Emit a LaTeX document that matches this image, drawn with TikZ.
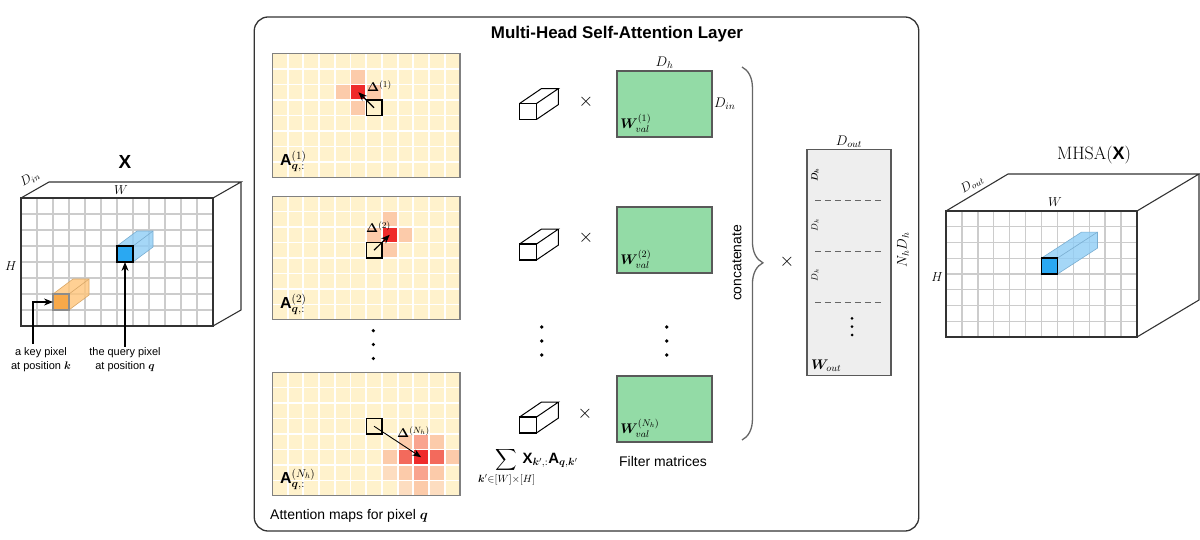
\RequirePackage{fix-cm}
\documentclass[tikz,border=0pt]{standalone}
\usepackage{amsmath}
\usepackage{mathtools}
\usepackage{amssymb}
\usepackage{bm}
\usepackage[no-math]{fontspec}
\setmainfont{Liberation Sans}
\usetikzlibrary{positioning}
\usetikzlibrary{calc}
\usetikzlibrary{arrows.meta}
\usetikzlibrary{decorations.pathreplacing}

\definecolor{cellbase}{HTML}{FFF2CC}
\definecolor{cellfaint}{HTML}{FDDDC0}
\definecolor{celllight}{HTML}{FCCBAA}
\definecolor{cellmid}{HTML}{F9A48F}
\definecolor{cellhot}{HTML}{F36A5C}
\definecolor{cellred}{HTML}{EF2B2B}
\definecolor{gridgray}{HTML}{CCCCCC}
\definecolor{edgegray}{HTML}{333333}
\definecolor{matgreen}{HTML}{93DBA6}
\definecolor{matgray}{HTML}{EEEEEE}
\definecolor{qblue}{HTML}{2AA8F2}
\definecolor{qbluelight}{HTML}{8FCDF6}
\definecolor{korange}{HTML}{F8A94A}
\definecolor{korangelight}{HTML}{FFC57A}

\begin{document}
\begin{tikzpicture}[x=1bp, y=-1bp]
\useasboundingbox (0,0) rectangle (1200,540);

% Define styles for different elements
\tikzstyle{tensoredge} = [draw=edgegray, line width=1.1]
\tikzstyle{tensorface} = [draw=edgegray, line width=2]
\tikzstyle{gridline} = [draw=gridgray, line width=1.4]
\tikzstyle{cellline} = [draw=white, line width=2]
\tikzstyle{panel} = [rectangle, rounded corners=14pt, draw=edgegray, line width=1.3, minimum width=667, minimum height=516, inner sep=0]
\tikzstyle{mapframe} = [rectangle, draw=black!50, line width=1.3, minimum width=188.4, minimum height=124, inner sep=0, outer sep=0]
\tikzstyle{querybox} = [rectangle, draw=black, line width=1.6, minimum size=15.5, inner sep=0, outer sep=0]
\tikzstyle{pixel} = [rectangle, draw=edgegray, line width=1.4, minimum size=16, inner sep=0, outer sep=0]
\tikzstyle{cube} = [rectangle, draw=black, line width=1.5, fill=white, minimum width=17, minimum height=16, inner sep=0, outer sep=0]
\tikzstyle{cubeedge} = [draw=black, line width=1]
\tikzstyle{valbox} = [rectangle, draw=black!65, line width=1.6, fill=matgreen, minimum width=95, minimum height=66, inner sep=0, outer sep=0]
\tikzstyle{outbox} = [rectangle, draw=black!65, line width=1.6, fill=matgray, minimum width=84, minimum height=227, inner sep=0, outer sep=0]
\tikzstyle{arrow} = [line width=1.2, -{Stealth[length=9pt,width=7pt]}]
\tikzstyle{dashline} = [draw=black!60, line width=0.9, dash pattern=on 6pt off 4pt]
\tikzstyle{bracestyle} = [draw=black!60, line width=1.3, decorate, decoration={brace, amplitude=21pt, aspect=0.525}]
\tikzstyle{smalltext} = [font=\fontsize{11}{14}\selectfont, align=center, inner sep=1]
\tikzstyle{bodytext} = [font=\fontsize{14}{17}\selectfont, inner sep=1]
\tikzstyle{timesign} = [font=\fontsize{19}{20}\selectfont, inner sep=1]
\tikzstyle{maplabel} = [font=\fontsize{16}{18}\selectfont, inner sep=1]
\tikzstyle{mathlabel} = [font=\fontsize{14}{16}\selectfont, inner sep=1]
\tikzstyle{tinylabel} = [font=\fontsize{13}{15}\selectfont, inner sep=1]

% Input tensor X
\draw[tensoredge] (21,198) -- (49,182) -- (241,182) -- (213,198);
\draw[tensoredge] (241,182) -- (241,310) -- (213,326);
\fill[white] (21,198) rectangle (213,326);
\foreach \i in {1,...,11} \draw[gridline] ({21+\i*16},198) -- ++(0,128);
\foreach \j in {1,...,7} \draw[gridline] (21,{198+\j*16}) -- ++(192,0);
\node[pixel, draw=none] (xq) at (125,254) {};
\node[pixel, draw=none] (xk) at (61,302) {};
\fill[qbluelight, fill opacity=0.8] (xq.north west) -- ++(20,-15) -- ++(16,0) -- ++(0,16) -- (xq.south east) -- (xq.north east) -- cycle;
\draw[qbluelight!85!black, line width=0.6] (xq.north west) -- ++(20,-15) -- ++(16,0) -- ++(0,16) -- (xq.south east);
\draw[qbluelight!85!black, line width=0.6] (xq.north east) -- ++(20,-15);
\fill[korangelight, fill opacity=0.8] (xk.north west) -- ++(20,-15) -- ++(16,0) -- ++(0,16) -- (xk.south east) -- (xk.north east) -- cycle;
\draw[korangelight!85!black, line width=0.6] (xk.north west) -- ++(20,-15) -- ++(16,0) -- ++(0,16) -- (xk.south east);
\draw[korangelight!85!black, line width=0.6] (xk.north east) -- ++(20,-15);
\node[pixel, fill=qblue, draw=black] (xqpix) at (xq) {};
\node[pixel, fill=korange, draw=black!45] (xkpix) at (xk) {};
\draw[tensorface] (21,198) rectangle (213,326);

\node[font=\fontsize{19}{21}\selectfont\bfseries] (xtitle) at (125,162) {X};
\node[tinylabel] (xw) at (121,190) {$W$};
\node[tinylabel] (xh) at (11,266) {$H$};
\node[tinylabel, rotate=30] (xdin) at (30,179) {$D_{in}$};

% Pointers to the pixels
\node[smalltext] (klabel) at (41,360) {a key pixel\\at position $\bm{k}$};
\node[smalltext] (qlabel) at (125,360) {the query pixel\\at position $\bm{q}$};
\coordinate (kstart) at (33,344);
\draw[arrow] (qlabel) -- (xqpix);
\draw[arrow] (kstart) |- (xkpix);

% Layer frame
\node[panel] (layer) at (586.5,274) {};
\node[font=\fontsize{17}{20}\selectfont\bfseries] (title) at (617,34) {Multi-Head Self-Attention Layer};

% Draw the attention maps
\foreach \mtop in {53.5,196,372} {
  \fill[cellbase] (272,\mtop) rectangle ++(188.4,124);
}
\foreach \cc/\rr/\cl in {5/1/celllight, 4/2/celllight, 6/2/celllight, 5/3/celllight, 5/2/cellred}
  \fill[\cl] ({272+\cc*15.7},{53.5+\rr*15.5}) rectangle ++(15.7,15.5);
\foreach \cc/\rr/\cl in {7/1/celllight, 6/2/celllight, 8/2/celllight, 7/3/celllight, 7/2/cellred}
  \fill[\cl] ({272+\cc*15.7},{196+\rr*15.5}) rectangle ++(15.7,15.5);
\foreach \cc/\rr/\cl in {8/4/celllight, 9/4/cellmid, 10/4/celllight, 7/5/celllight, 8/5/cellhot, 9/5/cellred, 10/5/cellhot, 11/5/celllight, 7/6/cellfaint, 8/6/celllight, 9/6/cellmid, 10/6/celllight, 8/7/cellfaint, 9/7/celllight, 10/7/cellfaint}
  \fill[\cl] ({272+\cc*15.7},{372+\rr*15.5}) rectangle ++(15.7,15.5);
\foreach \mtop in {53.5,196,372} {
  \foreach \i in {1,...,11} \draw[cellline] ({272+\i*15.7},\mtop) -- ++(0,124);
  \foreach \j in {1,...,7} \draw[cellline] (272,{\mtop+\j*15.5}) -- ++(188.4,0);
}
\node[mapframe] (map1) at (366.2,115.5) {};
\node[mapframe] (map2) at (366.2,258) {};
\node[mapframe] (map3) at (366.2,434) {};

% Query boxes and offsets
\node[querybox] (q1) at (374.05,107.75) {};
\node[querybox] (q2) at (374.05,250.25) {};
\node[querybox] (q3) at (374.05,426.25) {};
\coordinate (hot1) at (358.35,92.25);
\coordinate (hot2) at (389.75,234.75);
\coordinate (hot3) at (421.15,457.25);
\draw[arrow] (q1.center) -- (hot1);
\draw[arrow] (q2.center) -- (hot2);
\draw[arrow, line width=0.9] (q3.center) -- (hot3);
\node[tinylabel, anchor=west] (delta1) at (366,86) {$\bm{\Delta}^{(1)}$};
\node[tinylabel, anchor=west] (delta2) at (365,227) {$\bm{\Delta}^{(2)}$};
\node[tinylabel, anchor=west] (delta3) at (396,432) {$\bm{\Delta}^{(N_h)}$};

\node[maplabel, anchor=south west] (amap1) at (279,173) {$\textbf{A}^{(1)}_{\bm{q},:}$};
\node[maplabel, anchor=south west] (amap2) at (279,316) {$\textbf{A}^{(2)}_{\bm{q},:}$};
\node[maplabel, anchor=south west] (amap3) at (279,491) {$\textbf{A}^{(N_h)}_{\bm{q},:}$};
\node[bodytext, anchor=west] (mapcaption) at (269,516) {Attention maps for pixel $\bm{q}$};

% Weighted sums and value matrices
\node[cube] (cub1) at (528,111.5) {};
\node[cube] (cub2) at (528,252) {};
\node[cube] (cub3) at (528,425) {};
\foreach \n in {cub1,cub2,cub3} {
  \draw[cubeedge] (\n.north west) -- ++(22,-15) -- ++(17,0) -- (\n.north east);
  \draw[cubeedge] ($(\n.north east)+(22,-15)$) -- ++(0,16) -- (\n.south east);
}
\node[timesign] (times1) at (586,102) {$\times$};
\node[timesign] (times2) at (586,238) {$\times$};
\node[timesign] (times3) at (585,414) {$\times$};

\node[valbox] (wv1) at (664.5,104) {};
\node[valbox] (wv2) at (664.5,240) {};
\node[valbox] (wv3) at (664.5,409) {};
\node[mathlabel, anchor=south west] (wvl1) at ($(wv1.south west)+(2,-3)$) {$\bm{W}_{val}^{(1)}$};
\node[mathlabel, anchor=south west] (wvl2) at ($(wv2.south west)+(2,-3)$) {$\bm{W}_{val}^{(2)}$};
\node[mathlabel, anchor=south west] (wvl3) at ($(wv3.south west)+(2,-3)$) {$\bm{W}_{val}^{(N_h)}$};
\node[mathlabel, above=1pt of wv1] (dh) {$D_h$};
\node[mathlabel, right=1pt of wv1] (din) {$D_{in}$};

\foreach \y in {327,341,355} {
  \fill (541.7,\y) circle (1.8);
  \fill (666.7,\y) circle (1.8);
}
\foreach \y in {330.7,344.5,358.5} \fill (373.3,\y) circle (1.8);

\node[font=\fontsize{15}{17}\selectfont] (sumlabel) at (537,467) {$\displaystyle\sum\limits_{\mathclap{\bm{k}'\in[W]\times[H]}}\,\textbf{X}_{\bm{k}',:}\textbf{A}_{\bm{q},\bm{k}'}$};
\node[bodytext] (filters) at (663,462) {Filter matrices};

% Concatenation and output projection
\coordinate (bracetop) at (742,67);
\coordinate (bracebot) at (742,440);
\draw[bracestyle] (bracetop) -- (bracebot);
\node[bodytext, rotate=90] (concat) at (737,263) {concatenate};
\node[timesign] (times4) at (787,262) {$\times$};

\node[outbox] (wout) at (849,262.5) {};
\node[mathlabel, above=1pt of wout] (dout) {$D_{out}$};
\node[mathlabel, rotate=90] (nhdh) at (903,250) {$N_hD_h$};
\foreach \y in {200,251,302} \draw[dashline] (815,\y) -- (883,\y);
\node[font=\fontsize{9}{10}\selectfont, rotate=90] (dha) at (815,175) {$\bm{D_h}$};
\node[font=\fontsize{9}{10}\selectfont, rotate=90] (dhb) at (815,225) {$D_h$};
\node[font=\fontsize{9}{10}\selectfont, rotate=90] (dhc) at (815,275) {$D_h$};
\foreach \y in {318.3,326.7,335} \fill (852,\y) circle (1.5);
\node[mathlabel, anchor=south west] (woutl) at (810,373) {$\bm{W}_{out}$};

% Output tensor
\draw[tensoredge] (946,211) -- (1008,174) -- (1199,174) -- (1137,211);
\draw[tensoredge] (1199,174) -- (1199,300) -- (1137,337);
\fill[white] (946,211) rectangle (1137,337);
\foreach \i in {1,...,11} \draw[gridline] ({946+\i*15.917},211) -- ++(0,126);
\foreach \j in {1,...,7} \draw[gridline] (946,{211+\j*15.75}) -- ++(191,0);
\node[pixel, draw=none] (yq) at (1049.45,266.1) {};
\fill[qbluelight, fill opacity=0.8] (yq.north west) -- ++(40,-26) -- ++(16,0) -- ++(0,16) -- (yq.south east) -- (yq.north east) -- cycle;
\draw[qbluelight!85!black, line width=0.6] (yq.north west) -- ++(40,-26) -- ++(16,0) -- ++(0,16) -- (yq.south east);
\draw[qbluelight!85!black, line width=0.6] (yq.north east) -- ++(40,-26);
\node[pixel, fill=qblue, draw=black] (yqpix) at (yq) {};
\draw[tensorface] (946,211) rectangle (1137,337);

\node[font=\fontsize{18}{20}\selectfont] (ytitle) at (1094,155) {$\mathrm{MHSA}(\textbf{X})$};
\node[tinylabel] (yw) at (1055,202) {$W$};
\node[tinylabel] (yh) at (937,277) {$H$};
\node[tinylabel, rotate=31] (ydout) at (972,184) {$D_{out}$};
\end{tikzpicture}
\end{document}
